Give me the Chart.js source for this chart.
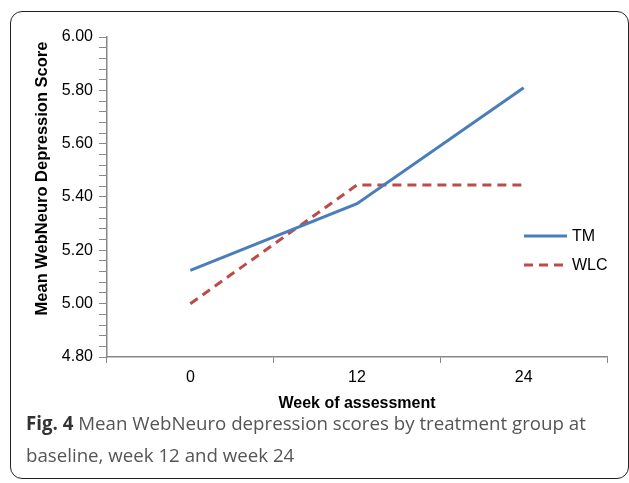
<!DOCTYPE html>
<html>
<head>
<meta charset="utf-8">
<script src="https://cdn.jsdelivr.net/npm/chart.js@4"></script>
<style>
  body { margin: 0; background: #fff; width: 629px; height: 483px; overflow: hidden; position: relative; }
  #frame { position: absolute; left: 10px; top: 11px; width: 619px; height: 468px; border: 1.5px solid #222; border-radius: 12px; box-sizing: border-box; }
  #wrap { position: absolute; left: 0; top: 0; width: 629px; height: 420px; }
  #caption { position: absolute; left: 26px; top: 407px; width: 600px; font-family: "Open Sans", sans-serif; font-size: 18.7px; line-height: 32px; color: #555; }
  #caption b { color: #333; }
</style>
</head>
<body>
<div id="frame"></div>
<div id="wrap"><canvas id="myChart"></canvas></div>
<div id="caption"><b>Fig. 4</b> Mean WebNeuro depression scores by treatment group at<br>baseline, week 12 and week 24</div>
<script>
const weeks = ["0", "12", "24"];
const tmScores = [5.125, 5.375, 5.81];
const wlcScores = [5.00, 5.445, 5.445];
const seriesNames = ["TM", "WLC"];

const ctx = document.querySelector("#myChart");

// legend drawn inside the plot area, right side
const sideLegend = {
    id: "sideLegend",
    afterDraw(chart) {
        const c = chart.ctx;
        const area = chart.chartArea;
        chart.data.datasets.forEach((ds, i) => {
            const x = area.right - 83;
            const y = area.top + 199 + i * 29;
            c.save();
            c.strokeStyle = ds.borderColor;
            c.lineWidth = 3;
            c.setLineDash(ds.borderDash || []);
            c.beginPath();
            c.moveTo(x, y);
            c.lineTo(x + (i == 0 ? 43 : 40), y);
            c.stroke();
            c.setLineDash([]);
            c.fillStyle = "#000";
            c.font = "16px 'Liberation Sans', Arial";
            c.textBaseline = "middle";
            c.fillText(ds.label, x + 48, y + 1);
            c.restore();
        });
    }
};

new Chart(ctx, {
    type: "line",
    data: {
        labels: weeks,
        datasets: [{
            label: seriesNames[0],
            data: tmScores,
            borderColor: "#4a7ebb",
            borderWidth: 3,
            pointRadius: 0,
            tension: 0
        }, {
            label: seriesNames[1],
            data: wlcScores,
            borderColor: "#be4b48",
            borderWidth: 3,
            borderDash: [9, 6],
            pointRadius: 0,
            tension: 0
        }]
    },
    options: {
        responsive: true,
        maintainAspectRatio: false,
        animation: false,
        layout: { padding: { top: 37, right: 22, left: 0, bottom: 0 } },
        plugins: {
            legend: { display: false },
            tooltip: { enabled: false }
        },
        scales: {
            x: {
                offset: true,
                grid: { offset: true, drawOnChartArea: false, color: "#888", tickLength: 6 },
                border: { color: "#888", width: 1.5 },
                ticks: { color: "#000", font: { family: "'Liberation Sans', Arial", size: 16 }, padding: 5 },
                title: {
                    display: true,
                    text: "Week of assessment",
                    color: "#000",
                    font: { family: "'Liberation Sans', Arial", size: 16, weight: "bold" },
                    padding: { top: 0, bottom: 7 }
                },
                afterFit(scale) { scale.height = 63; }
            },
            y: {
                min: 4.8,
                max: 6.0,
                grid: { drawOnChartArea: false, color: "#888", tickLength: 8 },
                border: { color: "#888", width: 1.5 },
                ticks: {
                    stepSize: 0.04,
                    autoSkip: false,
                    color: "#000",
                    font: { family: "'Liberation Sans', Arial", size: 16 },
                    padding: 6,
                    callback: function (v) {
                        const r = Math.round(v * 100);
                        return r % 20 === 0 ? (r / 100).toFixed(2) : "";
                    }
                },
                title: {
                    display: true,
                    text: "Mean WebNeuro Depression Score ",
                    align: "end",
                    color: "#000",
                    font: { family: "'Liberation Sans', Arial", size: 16.5, weight: "bold" },
                    padding: { top: 33, bottom: 0 }
                },
                afterFit(scale) { scale.width = 107; }
            }
        }
    },
    plugins: [sideLegend]
});
</script>
</body>
</html>
